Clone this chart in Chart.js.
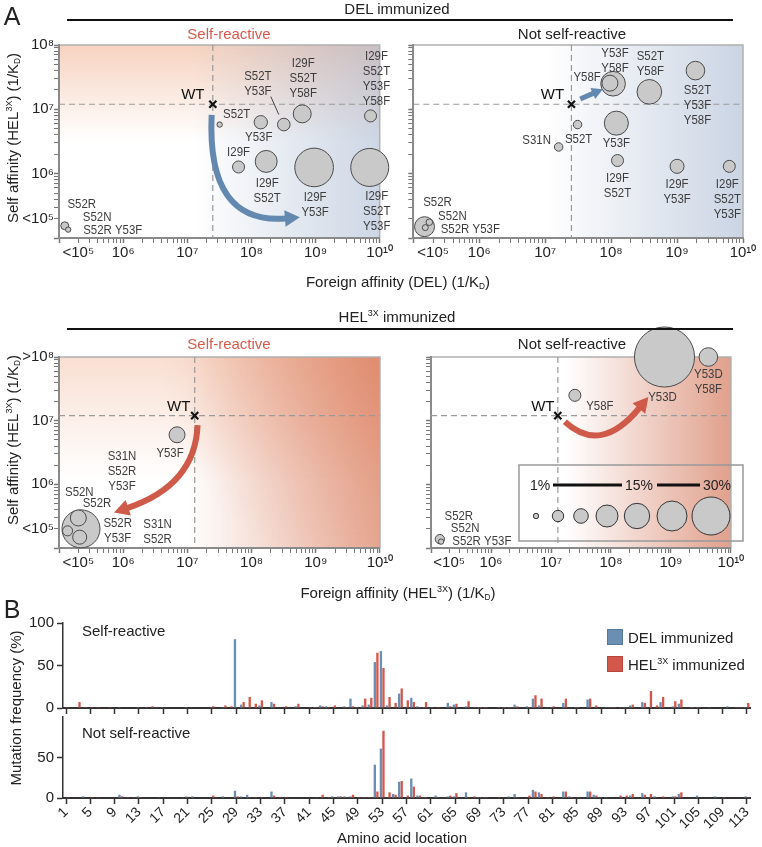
<!DOCTYPE html>
<html>
<head>
<meta charset="utf-8">
<script src="https://cdn.jsdelivr.net/npm/chart.js@4.4.0/dist/chart.umd.min.js"></script>
<style>
body { margin: 0; background: #fff; }
#fig { position: relative; width: 762px; height: 847px; overflow: hidden;
       font-family: "Liberation Sans", Arial, Helvetica, sans-serif; color: #222; }
canvas { position: absolute; }
.t { position: absolute; transform: translate(-50%, -50%); white-space: nowrap; line-height: 1; font-size: 15px; }
.l { position: absolute; transform: translateY(-50%); white-space: nowrap; line-height: 1; font-size: 15px; }
.v { position: absolute; transform: translate(-50%, -50%) rotate(-90deg); white-space: nowrap; line-height: 1; font-size: 15px; }
sup { font-size: 0.6em; vertical-align: 0.6em; line-height: 0; }
sub { font-size: 0.55em; vertical-align: -0.3em; line-height: 0; }
.rule { position: absolute; height: 2px; background: #111; }
.red { color: #d65a4c; }
.sq { position: absolute; width: 16px; height: 16px; box-sizing: border-box; }
</style>
</head>
<body>
<div id="fig">
  <canvas id="aTL" width="400" height="275" style="left:0;top:0"></canvas>
  <canvas id="aTR" width="362" height="275" style="left:400px;top:0"></canvas>
  <canvas id="aBL" width="400" height="275" style="left:0;top:310px"></canvas>
  <canvas id="aBR" width="362" height="275" style="left:400px;top:310px"></canvas>
  <canvas id="bTop" width="762" height="120" style="left:0;top:600px"></canvas>
  <canvas id="bBot" width="762" height="142" style="left:0;top:705px"></canvas>

  <div class="t" style="left:12px;top:16px;font-size:25px">A</div>
  <div class="t" style="left:397px;top:8px">DEL immunized</div>
  <div class="rule" style="left:67px;top:19px;width:666px"></div>
  <div class="t red" style="left:229px;top:33px">Self-reactive</div>
  <div class="t" style="left:572px;top:33px">Not self-reactive</div>
  <div class="v" style="left:12px;top:138px">Self affinity (HEL<sup>3X</sup>) (1/K<sub>D</sub>)</div>
  <div class="t" style="left:398px;top:281px">Foreign affinity (DEL) (1/K<sub>D</sub>)</div>

  <div class="t" style="left:397px;top:316px">HEL<sup>3X</sup> immunized</div>
  <div class="rule" style="left:67px;top:328px;width:666px"></div>
  <div class="t red" style="left:229px;top:343px">Self-reactive</div>
  <div class="t" style="left:572px;top:343px">Not self-reactive</div>
  <div class="v" style="left:12px;top:440px">Self affinity (HEL<sup>3X</sup>) (1/K<sub>D</sub>)</div>
  <div class="t" style="left:398px;top:592px">Foreign affinity (HEL<sup>3X</sup>) (1/K<sub>D</sub>)</div>

  <svg id="sizeKey" width="230" height="80" style="position:absolute;left:518px;top:464px"></svg>

  <div class="t" style="left:12px;top:609px;font-size:25px">B</div>
  <div class="v" style="left:15px;top:708px">Mutation frequency (%)</div>
  <div class="l" style="left:82px;top:630px">Self-reactive</div>
  <div class="l" style="left:82px;top:732px">Not self-reactive</div>
  <div class="sq" style="left:607px;top:629px;background:#6b8fb3;border:1px solid #56789a"></div>
  <div class="l" style="left:628px;top:637px">DEL immunized</div>
  <div class="sq" style="left:607px;top:656px;background:#d3574a;border:1px solid #b3463b"></div>
  <div class="l" style="left:628px;top:664px">HEL<sup>3X</sup> immunized</div>
  <div class="t" style="left:402px;top:837px">Amino acid location</div>
</div>

<script>
// ---- panel A: affinities (1/KD) and clone frequency (%) ----
const delSelfNames = ['S52T', 'Y53F', 'S52T\nY53F', 'I29F\nS52T\nY58F', 'I29F\nS52T\nY53F\nY58F',
  'I29F', 'I29F\nS52T', 'I29F\nY53F', 'I29F\nS52T\nY53F', 'S52R', 'S52N'];
const delSelfForeign = [3.2e7, 1.4e8, 3.2e8, 6.2e8, 7.2e9, 6.3e7, 1.7e8, 9.5e8, 7.0e9, 1.23e5, 1.39e5];
const delSelfSelf = [5.8e6, 6.3e6, 5.8e6, 8.5e6, 7.9e6, 1.27e6, 1.55e6, 1.25e6, 1.25e6, 1.55e5, 1.35e5];
const delSelfFreq = [0.6, 3.7, 3.3, 6.7, 3.0, 3.0, 10, 31, 30, 1.3, 0.6];

const delNonNames = ['Y58F', 'Y53F\nY58F', 'S52T\nY58F', 'S52T\nY53F\nY58F', 'S52T', 'Y53F', 'S31N',
  'I29F\nS52T', 'I29F\nY53F', 'I29F\nS52T\nY53F', 'S52R', 'S52N', 'S52R Y53F'];
const delNonForeign = [1.07e8, 9.6e7, 3.8e8, 1.9e9, 3.1e7, 1.2e8, 1.6e7, 1.25e8, 1.0e9, 6.2e9, 1.48e5, 1.75e5, 1.52e5];
const delNonSelf = [2.5e7, 2.55e7, 1.87e7, 4.0e7, 5.8e6, 6.1e6, 2.6e6, 1.6e6, 1.3e6, 1.3e6, 1.5e5, 1.76e5, 1.45e5];
const delNonFreq = [12.6, 5.3, 12.6, 7.2, 1.5, 12, 1.5, 3, 4.1, 3, 8.3, 0.9, 0.75];

const helSelfNames = ['Y53F', 'S52R', 'S52N', 'S31N\nS52R', 'S52R\nY53F'];
const helSelfForeign = [6.9e6, 2.2e5, 2.0e5, 1.36e5, 2.1e5];
const helSelfSelf = [6.0e6, 2.0e5, 2.96e5, 1.86e5, 1.48e5];
const helSelfFreq = [5.3, 30, 5.3, 2.1, 4.1];

const helNonNames = ['Y53D', 'Y53D\nY58F', 'Y58F', 'S52R', 'S52N'];
const helNonForeign = [7.8e8, 4.2e9, 2.5e7, 1.4e5, 1.47e5];
const helNonSelf = [1.0e8, 1.0e8, 2.5e7, 1.38e5, 1.26e5];
const helNonFreq = [75, 7.2, 3, 1.8, 0.6];

const wtDel = [2.5e7, 1.2e7];
const wtHel = [1.3e7, 1.2e7];
const keyFreq = [0.6, 2.7, 4.4, 10, 13.4, 18.7, 30];

// ---- panel B: mutation frequency (%) at residues 1..113 ----
const residues = Array.from({ length: 113 }, (_, i) => String(i + 1));
const selfDel = [0,0,0,0,0,0,0,0,0,1, 0,0,1,0,0,1,1,0,0,0, 1,0,0,0,1,0,1,0,81,4, 1,0,3,0,7,0,0,0,2,0,
  0,1,3,2,0,0,2,11,1,3, 4,54,67,3,0,17,0,12,2,1, 0,0,0,6,4,0,2,0,1,1, 0,0,1,1,4,0,2,11,3,0,
  1,0,6,0,1,0,10,0,0,1, 1,0,1,3,0,7,0,0,7,0, 2,5,0,1,1,0,1,0,0,2, 0,1,1];
const selfHel = [1,0,7,1,1,1,0,1,0,0, 0,0,0,1,2,0,0,0,0,0, 0,0,0,0,2,0,3,2,0,7, 13,5,9,0,5,0,2,0,5,0,
  1,1,2,1,3,0,1,2,0,11, 12,65,47,13,6,23,9,7,1,7, 1,1,0,2,5,0,8,1,1,1, 0,1,1,1,2,0,1,15,11,0,
  2,0,11,0,1,0,11,3,0,1, 1,1,1,4,0,6,20,3,13,0, 8,10,0,1,1,0,0,0,0,0, 1,1,6];
const nonDel = [0,0,0,2,0,0,0,0,0,4, 0,0,2,0,0,0,0,0,0,0, 2,2,0,0,0,0,2,0,9,2, 4,0,0,0,8,0,0,0,0,0,
  0,0,0,0,2,2,2,2,0,1, 1,41,61,1,5,20,0,24,3,1, 0,3,0,2,2,0,7,0,1,1, 0,0,0,2,5,0,0,10,7,0,
  0,0,8,2,0,0,8,4,1,1, 0,0,0,3,0,6,1,2,0,0, 2,5,0,0,3,0,0,2,0,0, 0,0,2];
const nonHel = [1,0,0,0,1,1,0,0,0,2, 1,1,1,0,0,1,0,0,0,1, 0,0,0,0,3,0,0,0,2,0, 1,1,1,0,3,1,1,0,0,0,
  0,1,4,1,0,2,1,4,1,1, 1,8,83,7,4,21,3,14,3,1, 0,1,1,3,6,0,1,2,1,1, 0,1,0,0,1,0,3,8,5,1,
  2,0,8,1,1,0,8,3,0,0, 0,3,3,5,0,4,5,0,2,0, 2,7,0,0,0,0,0,0,1,0, 0,0,1];

const FONT = '"Liberation Sans", Arial, Helvetica, sans-serif';
Chart.defaults.font.family = FONT;

const SUP = '⁰¹²³⁴⁵⁶⁷⁸⁹';
const pow10 = e => '10' + String(e).split('').map(d => SUP[d]).join('');
const isPow = v => Math.abs(Math.log10(v) - Math.round(Math.log10(v))) < 1e-9;
const rad = f => 3.47 * Math.sqrt(f);

function logTicks(lo, hi) {
  return axis => {
    const t = [];
    for (let e = lo; e < hi; e++) for (let k = 1; k < 10; k++) t.push({ value: k * 10 ** e });
    t.push({ value: 10 ** hi });
    axis.ticks = t;
  };
}

function xLabel(v) {
  if (v === 2e5) return '<' + pow10(5);
  if (isPow(v) && v >= 1e6) return pow10(Math.round(Math.log10(v)));
  return '';
}

function yLabel(v, top) {
  if (v === 2e5) return '<' + pow10(5);
  if (isPow(v)) {
    const e = Math.round(Math.log10(v));
    if (e === 8) return top;
    if (e >= 6) return pow10(e);
  }
  return '';
}

function rgba(c, a) { return 'rgba(' + c + ',' + a + ')'; }
function vgrad(ctx, a, c, alpha, stop) {
  const g = ctx.createLinearGradient(0, a.top, 0, a.bottom);
  g.addColorStop(0, rgba(c, alpha)); g.addColorStop(stop, rgba(c, 0)); g.addColorStop(1, rgba(c, 0));
  ctx.fillStyle = g; ctx.fillRect(a.left, a.top, a.width, a.height);
}
function hgrad(ctx, a, c, start, alpha) {
  const g = ctx.createLinearGradient(a.left, 0, a.right, 0);
  g.addColorStop(0, rgba(c, 0)); g.addColorStop(start, rgba(c, 0)); g.addColorStop(1, rgba(c, alpha));
  ctx.fillStyle = g; ctx.fillRect(a.left, a.top, a.width, a.height);
}
function cornerGrad(ctx, a, c, alpha, r) {
  const g = ctx.createRadialGradient(a.right, a.top, 0, a.right, a.top, r);
  g.addColorStop(0, rgba(c, alpha)); g.addColorStop(1, rgba(c, 0));
  ctx.fillStyle = g; ctx.fillRect(a.left, a.top, a.width, a.height);
}

const backgrounds = {
  delSelf(ctx, a) { vgrad(ctx, a, '235,150,105', 0.42, 0.5); hgrad(ctx, a, '150,170,200', 0.42, 0.48); },
  delNon(ctx, a) { hgrad(ctx, a, '150,170,200', 0.4, 0.5); },
  helSelf(ctx, a) {
    vgrad(ctx, a, '235,150,105', 0.3, 0.65);
    hgrad(ctx, a, '215,115,80', 0.4, 0.62);
    cornerGrad(ctx, a, '215,110,75', 0.35, 220);
  },
  helNon(ctx, a) { hgrad(ctx, a, '210,115,85', 0.45, 0.68); }
};

function drawArrow(ctx, p, color, w, head) {
  let dx = p[2][0] - p[1][0], dy = p[2][1] - p[1][1];
  const len = Math.hypot(dx, dy); dx /= len; dy /= len;
  const bx = p[2][0] - dx * head, by = p[2][1] - dy * head;
  ctx.strokeStyle = color; ctx.lineWidth = w; ctx.lineCap = 'butt';
  ctx.beginPath();
  ctx.moveTo(p[0][0], p[0][1]);
  ctx.quadraticCurveTo(p[1][0], p[1][1], bx + dx, by + dy);
  ctx.stroke();
  const hw = head * 0.55;
  ctx.fillStyle = color;
  ctx.beginPath();
  ctx.moveTo(p[2][0], p[2][1]);
  ctx.lineTo(bx - dy * hw, by + dx * hw);
  ctx.lineTo(bx + dy * hw, by - dx * hw);
  ctx.closePath(); ctx.fill();
}

const deco = {
  id: 'deco',
  beforeDraw(chart, args, o) {
    const { ctx, chartArea: a } = chart;
    ctx.save();
    backgrounds[o.bg](ctx, a);
    ctx.strokeStyle = '#b0b0b0'; ctx.lineWidth = 1.5;
    ctx.strokeRect(a.left, a.top, a.width, a.height);
    ctx.restore();
  },
  beforeDatasetsDraw(chart, args, o) {
    const { ctx, chartArea: a, scales: { x, y } } = chart;
    const wx = x.getPixelForValue(o.wt[0]), wy = y.getPixelForValue(o.wt[1]);
    ctx.save();
    ctx.setLineDash([6, 4]); ctx.strokeStyle = '#9a9a9a'; ctx.lineWidth = 1.2;
    ctx.beginPath();
    ctx.moveTo(wx, a.top); ctx.lineTo(wx, a.bottom);
    ctx.moveTo(a.left, wy); ctx.lineTo(a.right, wy);
    ctx.stroke();
    ctx.restore();
  },
  afterDatasetsDraw(chart, args, o) {
    const { ctx, scales: { x, y } } = chart;
    const pts = chart.data.datasets[1].data;
    const px = p => [x.getPixelForValue(p[0]), y.getPixelForValue(p[1])];
    ctx.save();
    drawArrow(ctx, o.arrow.map(px), o.arrowColor, o.arrowWidth, o.arrowHead);

    ctx.fillStyle = '#3c3c3c';
    ctx.font = '13px ' + FONT;
    ctx.textAlign = 'center'; ctx.textBaseline = 'middle';
    for (const [i, dx, dy, txt] of o.labels) {
      const cx = x.getPixelForValue(pts[i].x) + dx, cy = y.getPixelForValue(pts[i].y) + dy;
      const lines = (txt || o.names[i]).split('\n');
      lines.forEach((s, k) => {
        ctx.save();
        ctx.translate(cx, cy + (k - (lines.length - 1) / 2) * 15);
        ctx.scale(0.88, 1);
        ctx.fillText(s, 0, 0);
        ctx.restore();
      });
    }
    ctx.strokeStyle = '#444'; ctx.lineWidth = 1;
    for (const [i, x1, y1, x2, y2] of (o.leaders || [])) {
      const cx = x.getPixelForValue(pts[i].x), cy = y.getPixelForValue(pts[i].y);
      ctx.beginPath(); ctx.moveTo(cx + x1, cy + y1); ctx.lineTo(cx + x2, cy + y2); ctx.stroke();
    }
    const [wx, wy] = px(o.wt);
    ctx.fillStyle = '#111'; ctx.font = '15px ' + FONT;
    ctx.fillText('WT', wx + o.wtLabel[0], wy + o.wtLabel[1]);
    ctx.restore();
  }
};

function affinityChart(id, names, fx, sy, freq, o) {
  const pts = fx.map((v, i) => ({ x: v, y: sy[i], r: rad(freq[i]) }));
  const grid = { display: true, drawOnChartArea: false, drawTicks: true, tickLength: 5, tickColor: '#777',
    tickWidth: c => (c.tick && isPow(c.tick.value) ? 1.5 : 1) };
  const border = { color: '#8a8a8a', width: 2 };
  return new Chart(document.getElementById(id), {
    type: 'bubble',
    data: {
      datasets: [
        { data: [{ x: o.wt[0], y: o.wt[1], r: 5 }], pointStyle: 'crossRot', borderColor: '#111',
          backgroundColor: '#111', borderWidth: 2.2, clip: false },
        { data: pts, backgroundColor: '#c9c9c9', borderColor: '#4a4a4a', borderWidth: 1, clip: false }
      ]
    },
    options: {
      responsive: false, animation: false, events: [],
      layout: { padding: { top: o.top, right: o.right, left: 0, bottom: 0 } },
      plugins: {
        legend: { display: false }, tooltip: { enabled: false },
        deco: Object.assign({ names }, o)
      },
      scales: {
        x: {
          type: 'logarithmic', min: 1e5, max: 1e10,
          afterBuildTicks: logTicks(5, 10),
          afterFit: s => { s.height = 37; },
          grid, border,
          ticks: { autoSkip: false, minRotation: 0, maxRotation: 0, padding: 1,
            font: { size: 15 }, color: '#222', callback: v => xLabel(v) }
        },
        y: {
          type: 'logarithmic', min: 1e5, max: 1e8,
          afterBuildTicks: logTicks(5, 8),
          afterFit: s => { s.width = o.yw; },
          grid, border,
          ticks: { autoSkip: false, padding: 0, font: { size: 15 }, color: '#222',
            callback: v => (o.yw > 20 ? yLabel(v, o.top8) : '') }
        }
      }
    },
    plugins: [deco]
  });
}

const blueArrow = '#6489b0', redArrow = '#cf5a49';

affinityChart('aTL', delSelfNames, delSelfForeign, delSelfSelf, delSelfFreq, {
  bg: 'delSelf', top: 45, right: 14, yw: 59, top8: pow10(8), wt: wtDel, wtLabel: [-20, -9],
  arrow: [[2.4e7, 8.2e6], [2.0e7, 1.6e5], [5.7e8, 2.1e5]], arrowColor: blueArrow, arrowWidth: 6, arrowHead: 15,
  labels: [[0, 17, -10], [1, -2, 15], [2, -26, -41], [3, 1, -35], [4, 6, -37], [5, 0, -15], [6, 1, 29],
    [7, 1, 37], [8, 7, 44], [9, 17, -21], [10, 29, -12], [9, 48, 5, 'S52R Y53F']],
  leaders: [[2, -13, -28, -5, -10]]
});

affinityChart('aTR', delNonNames, delNonForeign, delNonSelf, delNonFreq, {
  bg: 'delNon', top: 45, right: 19, yw: 13, top8: '', wt: wtDel, wtLabel: [-19, -9],
  arrow: [[3.4e7, 1.45e7], [5.05e7, 1.73e7], [7.5e7, 2.06e7]], arrowColor: blueArrow, arrowWidth: 5, arrowHead: 11,
  labels: [[0, -26, -6], [1, 5, -22], [2, 1, -28], [3, 2, 35], [4, 1, 15], [5, 0, 20], [6, -22, -7],
    [7, 0, 25], [8, 0, 26], [9, -2, 33], [10, 13, -24], [11, 23, -6], [12, 45, 2]]
});

affinityChart('aBL', helSelfNames, helSelfForeign, helSelfSelf, helSelfFreq, {
  bg: 'helSelf', top: 47, right: 14, yw: 59, top8: '>' + pow10(8), wt: wtHel, wtLabel: [-16, -9],
  arrow: [[1.44e7, 8.5e6], [1.33e7, 9.7e5], [7.2e5, 3.6e5]], arrowColor: redArrow, arrowWidth: 6, arrowHead: 15,
  labels: [[0, -7, 19], [1, 16, -25], [2, 1, -26], [3, 90, 1], [4, 38, -6], [1, 41, -57, 'S31N\nS52R\nY53F']]
});

affinityChart('aBR', helNonNames, helNonForeign, helNonSelf, helNonFreq, {
  bg: 'helNon', top: 47, right: 19, yw: 13, top8: '', wt: wtHel, wtLabel: [-15, -9],
  arrow: [[1.7e7, 9.6e6], [6.8e7, 2.9e6], [4.2e8, 2.36e7]], arrowColor: redArrow, arrowWidth: 6, arrowHead: 15,
  labels: [[0, -2, 40], [1, 0, 25], [2, 25, 11], [3, 19, -23], [4, 24, -13], [3, 42, 2, 'S52R Y53F']]
});

// bubble size key
(function () {
  const svg = document.getElementById('sizeKey');
  const cx = [18, 40, 63, 89, 119, 154, 193];
  let s = '<rect x="1" y="1" width="224" height="76" fill="none" stroke="#999" stroke-width="1.5"/>';
  s += '<text x="22" y="26" font-size="14" text-anchor="middle" fill="#222" font-family=\'' + FONT + '\'>1%</text>';
  s += '<text x="121" y="26" font-size="14" text-anchor="middle" fill="#222" font-family=\'' + FONT + '\'>15%</text>';
  s += '<text x="199" y="26" font-size="14" text-anchor="middle" fill="#222" font-family=\'' + FONT + '\'>30%</text>';
  s += '<line x1="35" y1="21" x2="104" y2="21" stroke="#111" stroke-width="3"/>';
  s += '<line x1="139" y1="21" x2="182" y2="21" stroke="#111" stroke-width="3"/>';
  keyFreq.forEach((f, i) => {
    s += '<circle cx="' + cx[i] + '" cy="52" r="' + rad(f).toFixed(1) + '" fill="#c9c9c9" stroke="#333" stroke-width="1"/>';
  });
  svg.innerHTML = s;
})();

function barChart(id, del, hel, o) {
  return new Chart(document.getElementById(id), {
    type: 'bar',
    data: {
      labels: residues,
      datasets: [
        { data: del, backgroundColor: '#6b8fb3' },
        { data: hel, backgroundColor: '#d3574a' }
      ]
    },
    options: {
      responsive: false, animation: false, events: [],
      layout: { padding: { top: o.top, right: 12, left: 0, bottom: 0 } },
      datasets: { bar: { barPercentage: 0.9, categoryPercentage: 0.85 } },
      plugins: { legend: { display: false }, tooltip: { enabled: false } },
      scales: {
        x: {
          grid: { display: true, drawOnChartArea: false, offset: false, tickLength: 6, tickWidth: 1.5,
            tickColor: c => (c.index % 4 === 0 ? '#333' : 'rgba(0,0,0,0)') },
          border: { color: '#333', width: 2 },
          afterFit: s => { s.height = o.xh; },
          ticks: { autoSkip: false, minRotation: o.rot, maxRotation: o.rot, padding: 0,
            font: { size: 14 }, color: '#222',
            callback: (v, i) => (o.labels && i % 4 === 0 ? residues[i] : '') }
        },
        y: {
          min: 0, max: 100,
          grid: { drawOnChartArea: false, tickLength: 6, tickWidth: 1.5,
            tickColor: c => (o.hide100 && c.tick && c.tick.value === 100 ? 'rgba(0,0,0,0)' : '#333') },
          border: { color: '#333', width: 1.5 },
          afterFit: s => { s.width = 63; },
          ticks: { stepSize: 50, padding: 3, font: { size: 15 }, color: '#222',
            callback: v => (o.hide100 && v === 100 ? '' : v) }
        }
      }
    }
  });
}

barChart('bTop', selfDel, selfHel, { top: 23, xh: 9, rot: 0, labels: false, hide100: false });
barChart('bBot', nonDel, nonHel, { top: 5, xh: 49, rot: 45, labels: true, hide100: true });
</script>
</body>
</html>
